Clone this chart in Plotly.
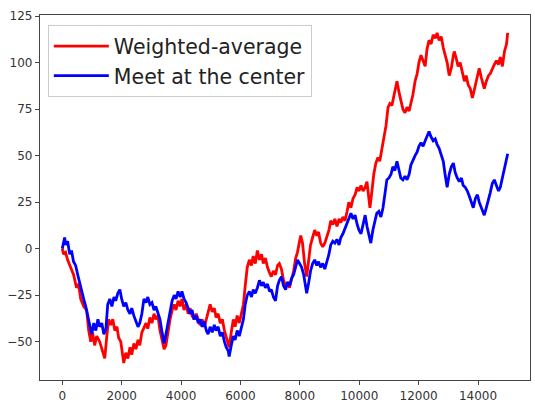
import plotly.graph_objects as go

# Weighted-average series (red)
red_x = [0, 44, 110, 180, 280, 380, 480, 550, 620, 720, 820, 890, 960, 1020, 1090, 1160, 1260, 1330, 1400, 1430,
         1500, 1560, 1630, 1700, 1770, 1840, 1900, 1970, 2040, 2070, 2140, 2210, 2280, 2340, 2410, 2480, 2550, 2610,
         2680, 2750, 2820, 2880, 2950, 3020, 3090, 3150, 3220, 3290, 3360, 3430, 3490, 3560, 3630, 3700, 3770, 3830,
         3900, 3970, 4030, 4100, 4170, 4240, 4300, 4370, 4440, 4510, 4580, 4640, 4710, 4780, 4850, 4910, 4980, 5050,
         5120, 5180, 5250, 5320, 5390, 5460, 5520, 5590, 5620, 5690, 5760, 5820, 5890, 5960, 6030, 6100, 6160, 6230,
         6300, 6370, 6430, 6500, 6570, 6640, 6710, 6770, 6840, 6910, 6980, 7040, 7110, 7180, 7250, 7310, 7380, 7450,
         7520, 7590, 7650, 7720, 7790, 7860, 7920, 7990, 8030, 8090, 8160, 8230, 8300, 8360, 8430, 8500, 8570, 8630,
         8700, 8770, 8840, 8910, 8980, 9040, 9110, 9180, 9250, 9320, 9380, 9450, 9520, 9590, 9650, 9720, 9790, 9860,
         9930, 9990, 10060, 10130, 10200, 10260, 10330, 10360, 10420, 10490, 10560, 10630, 10690, 10760, 10830,
         10900, 10970, 11030, 11100, 11170, 11240, 11270, 11340, 11400, 11470, 11540, 11610, 11680, 11740, 11810,
         11880, 11950, 12010, 12080, 12150, 12220, 12280, 12350, 12420, 12490, 12560, 12620, 12690, 12760, 12830,
         12890, 12960, 13030, 13100, 13170, 13200, 13270, 13330, 13400, 13470, 13540, 13600, 13670, 13740, 13810,
         13870, 13940, 14010, 14040, 14110, 14180, 14210, 14280, 14350, 14410, 14480, 14550, 14620, 14690, 14750,
         14820, 14890, 14960, 14999]
red_y = [0, -3, -2, -6, -10, -14, -21, -19, -27, -31, -33, -44, -50, -45, -52, -47, -50, -54, -57, -59,
         -47, -38, -41, -38, -44, -42, -48, -50, -58, -61.5, -56, -59, -53, -57, -51, -54, -49, -52,
         -45, -42, -40, -43, -37, -40, -35, -38, -36, -44, -50, -54, -52, -44, -38, -33, -30, -33,
         -28, -31, -27, -33, -30, -35, -32, -36, -38, -35, -39, -41, -38, -42, -38, -34, -30, -34,
         -32, -37, -35, -40, -38, -44, -47, -51, -53, -45, -38, -42, -36, -40, -34, -30, -20, -10,
         -6, -9, -4, -8, -1, -6, -3, -8, -5, -10, -13, -15, -12, -14, -9, -8, -11, -17,
         -20, -18, -21, -17, -12, -5, -2, 4, 7, 3, -8, -15, -5, 2, 6, 10, 7, 9,
         3, 1, 3, 6, 10, 15, 13, 16, 12, 16, 14, 17, 15, 20, 25, 22, 27, 29,
         33, 31, 34, 31, 33, 36, 27, 22, 30, 40, 46, 49, 47, 54, 60,
         66, 76, 78, 77, 82, 88, 90, 84, 79, 75, 73, 76, 74, 78, 83,
         90, 94, 100, 104, 101, 98, 107, 112, 110, 115, 113, 116, 112, 114, 108,
         104, 100, 93, 97, 104, 106, 102, 98, 100, 95, 90, 93, 88, 86, 81,
         85, 90, 95, 97, 92, 88, 86, 90, 93, 94, 97, 99, 101, 99, 103,
         98, 106, 110, 116]

# Meet at the center series (blue)
blue_x = [0, 40, 80, 110, 180, 250, 310, 380, 450, 520, 590, 650, 720, 790, 860, 920, 990, 1060, 1130, 1200,
          1260, 1330, 1400, 1470, 1530, 1600, 1670, 1740, 1800, 1870, 1940, 2000, 2070, 2140, 2210, 2280, 2340,
          2410, 2480, 2550, 2610, 2680, 2750, 2820, 2880, 2950, 3020, 3090, 3150, 3220, 3290, 3360, 3430, 3490,
          3560, 3630, 3700, 3770, 3830, 3900, 3970, 4030, 4100, 4170, 4240, 4300, 4370, 4440, 4510, 4580, 4640,
          4710, 4780, 4850, 4910, 4980, 5050, 5120, 5180, 5250, 5320, 5390, 5460, 5520, 5590, 5620, 5690, 5760,
          5820, 5890, 5960, 6030, 6100, 6160, 6230, 6300, 6370, 6430, 6500, 6570, 6640, 6710, 6770, 6840, 6910,
          6980, 7040, 7110, 7180, 7250, 7310, 7380, 7450, 7520, 7590, 7650, 7720, 7790, 7860, 7920, 7990, 8060,
          8130, 8190, 8230, 8300, 8360, 8430, 8500, 8570, 8630, 8700, 8770, 8840, 8910, 8980, 9040, 9110, 9180,
          9250, 9320, 9380, 9450, 9520, 9590, 9650, 9720, 9790, 9860, 9930, 9990, 10060, 10130, 10200, 10260,
          10330, 10390, 10460, 10530, 10590, 10660, 10730, 10800, 10860, 10930, 11000, 11070, 11130, 11200, 11270,
          11340, 11400, 11470, 11540, 11610, 11680, 11740, 11810, 11880, 11950, 12010, 12080, 12150, 12220, 12280,
          12350, 12420, 12490, 12560, 12620, 12690, 12760, 12830, 12890, 12960, 13030, 13100, 13170, 13230, 13300,
          13370, 13440, 13500, 13570, 13640, 13710, 13780, 13840, 13910, 13980, 14040, 14110, 14180, 14210, 14280,
          14350, 14410, 14480, 14550, 14620, 14690, 14750, 14820, 14890, 14960, 14999]
blue_y = [0, 3, 6, 2, 4, -3, -1, -7, -9, -14, -19, -22, -27, -31, -37, -42, -46, -40, -44, -38,
          -42, -40, -46, -43, -30, -27, -31, -26, -28, -24, -22, -27, -31, -29, -33, -35, -32,
          -36, -39, -42, -40, -35, -27, -29, -26, -30, -29, -33, -31, -35, -38, -45, -51, -46,
          -40, -35, -28, -25, -27, -23, -26, -23, -27, -29, -33, -35, -33, -38, -36, -40, -38,
          -42, -39, -44, -46, -42, -45, -41, -44, -42, -47, -45, -50, -53, -55, -58, -52, -47,
          -49, -44, -47, -42, -38, -30, -25, -23, -26, -22, -24, -21, -17, -20, -18, -21, -19,
          -23, -22, -26, -28, -20, -17, -15, -20, -22, -18, -20, -16, -14, -9, -6, -8, -10,
          -14, -20, -24, -18, -12, -8, -6, -9, -7, -10, -8, -11, -7, -3, 2, 4, 3,
          5, 2, 6, 8, 11, 14, 17, 19, 16, 18, 13, 10, 8, 14, 18, 12,
          7, 3, 10, 15, 19, 20, 17, 22, 30, 37, 38, 40, 44, 42, 47,
          42, 38, 37, 39, 37, 40, 45, 48, 50, 52, 55, 57, 55, 58, 60,
          63, 60, 58, 59, 56, 54, 51, 47, 40, 33, 40, 44, 46, 41, 38,
          36, 38, 34, 33, 31, 28, 25, 22, 27, 29, 25, 22, 19, 18, 22,
          26, 30, 35, 37, 34, 31, 33, 38, 43, 47, 51]

x_ticks = [0, 2000, 4000, 6000, 8000, 10000, 12000, 14000]
x_tick_labels = ["0", "2000", "4000", "6000", "8000", "10000", "12000", "14000"]
y_ticks = [-50, -25, 0, 25, 50, 75, 100, 125]
y_tick_labels = ["\u221250", "\u221225", "0", "25", "50", "75", "100", "125"]

fig = go.Figure()
fig.add_trace(go.Scatter(x=red_x, y=red_y, mode="lines", name="Weighted-average",
                         line=dict(color="#ff0000", width=2.8)))
fig.add_trace(go.Scatter(x=blue_x, y=blue_y, mode="lines", name="Meet at the center",
                         line=dict(color="#0000ff", width=2.8)))

axis_common = dict(showline=True, linecolor="#444", linewidth=1.2, mirror=True,
                   ticks="outside", ticklen=4, tickcolor="#444", showgrid=False, zeroline=False,
                   tickfont=dict(family="DejaVu Sans", size=12, color="#333"))

fig.update_layout(
    width=535, height=417,
    margin=dict(l=40, r=5, t=15, b=37),
    paper_bgcolor="white", plot_bgcolor="white",
    xaxis=dict(range=[-750, 15750], tickvals=x_ticks, ticktext=x_tick_labels, **axis_common),
    yaxis=dict(range=[-70.6, 125.6], tickvals=y_ticks, ticktext=y_tick_labels, **axis_common),
    legend=dict(x=0.016, y=0.972, xanchor="left", yanchor="top",
                bgcolor="rgba(255,255,255,0.8)", bordercolor="#ccc", borderwidth=1,
                font=dict(family="DejaVu Sans", size=20.5, color="#222"),
                tracegroupgap=0, itemwidth=55),
    showlegend=True,
)

fig.write_html("out.html")
